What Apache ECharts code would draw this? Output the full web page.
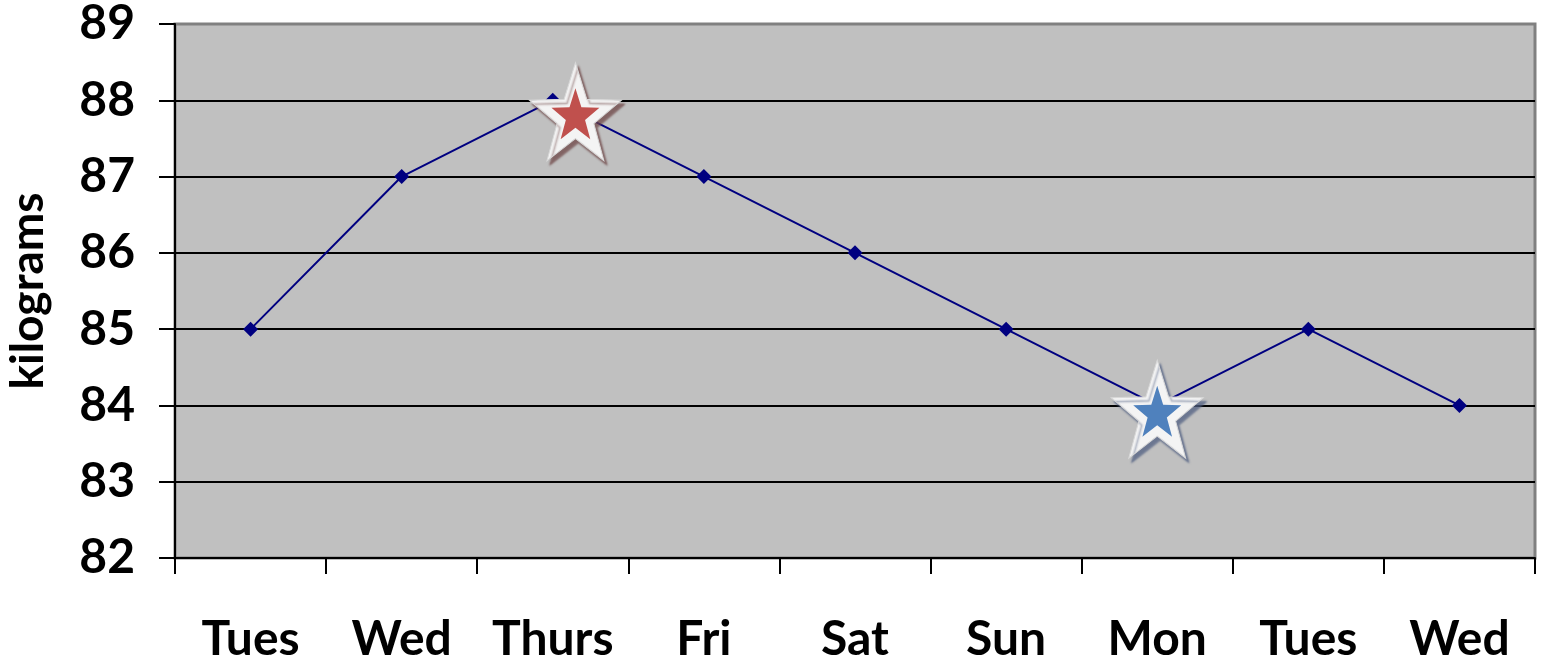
<!DOCTYPE html>
<html>
<head>
<meta charset="utf-8">
<script src="https://cdn.jsdelivr.net/npm/echarts@6/dist/echarts.min.js"></script>
<style>
  html, body { margin: 0; padding: 0; background: #fff; }
  #chart { width: 1543px; height: 663px; }
</style>
</head>
<body>
<div id="chart"></div>
<script>
// Daily body weight readings
const days = ['Tues', 'Wed', 'Thurs', 'Fri', 'Sat', 'Sun', 'Mon', 'Tues', 'Wed'];
const weights = [85, 87, 88, 87, 86, 85, 84, 85, 84];
const yTicks = [82, 83, 84, 85, 86, 87, 88, 89];

// Highlight stars: [position along the day axis (0..9), kilograms]
const highStar = [2.65, 87.85];
const lowStar = [6.5, 83.95];

const FONT = 'Lato, "Open Sans", sans-serif';

// Five-pointed star outline as an SVG path
function starPath() {
  const pts = [];
  for (let i = 0; i < 10; i++) {
    const r = i % 2 === 0 ? 50 : 20;
    const a = -Math.PI / 2 + i * Math.PI / 5;
    pts.push((50 + r * Math.cos(a)).toFixed(2) + ',' + (50 + r * Math.sin(a)).toFixed(2));
  }
  return 'path://M' + pts.join('L') + 'Z';
}
const STAR = starPath();

function starSeries(point, fill, shadow) {
  return [
    {
      type: 'scatter', xAxisIndex: 1, yAxisIndex: 0, z: 5,
      data: [point], symbol: STAR, symbolSize: [92, 98],
      itemStyle: {
        color: '#F4F4F4', opacity: 1, borderColor: '#D8D8D8', borderWidth: 1,
        shadowColor: shadow, shadowOffsetX: 3, shadowOffsetY: 4, shadowBlur: 2
      },
      silent: true
    },
    {
      type: 'scatter', xAxisIndex: 1, yAxisIndex: 0, z: 6,
      data: [point], symbol: STAR, symbolSize: [48, 51],
      symbolOffset: [0, 2],
      itemStyle: { color: fill, opacity: 1 },
      silent: true
    }
  ];
}

const chart = echarts.init(document.getElementById('chart'));
chart.setOption({
  animation: false,
  grid: {
    left: 175, right: 8, top: 24, bottom: 105,
    outerBoundsMode: 'none', containLabel: false,
    show: true, backgroundColor: '#C0C0C0',
    borderColor: '#808080', borderWidth: 3
  },
  xAxis: [
    {
      type: 'category', data: days, boundaryGap: true,
      axisLine: { lineStyle: { color: '#000', width: 2 } },
      axisTick: { show: true, length: 16, inside: false, interval: 0,
                  lineStyle: { color: '#000', width: 2 } },
      axisLabel: { color: '#000', fontFamily: FONT, fontWeight: 'bold', interval: 0,
                   fontSize: 48, margin: 58, lineHeight: 48 },
      splitLine: { show: false }
    },
    {
      type: 'value', min: 0, max: 9, show: false
    }
  ],
  yAxis: {
    type: 'value', min: 82, max: 89, interval: 1,
    name: 'kilograms', nameLocation: 'middle', nameGap: 124,
    nameTextStyle: { color: '#000', fontFamily: FONT, fontWeight: 'bold', fontSize: 46 },
    axisLine: { show: true, lineStyle: { color: '#000', width: 2 } },
    axisTick: { show: true, length: 16, lineStyle: { color: '#000', width: 2 } },
    axisLabel: { color: '#000', fontFamily: FONT, fontWeight: 'bold', fontSize: 48, margin: 40,
                 formatter: v => yTicks.includes(v) ? String(v) : '' },
    splitLine: { show: true, lineStyle: { width: 2,
      color: ['#000', '#000', '#000', '#000', '#000', '#000', '#000', '#808080'] } }
  },
  series: [
    {
      type: 'line', data: weights, z: 3,
      symbol: 'diamond', symbolSize: 15,
      lineStyle: { color: '#000080', width: 2 },
      itemStyle: { color: '#000080' }
    },
    ...starSeries(highStar, '#C0504D', 'rgba(110,70,70,0.75)'),
    ...starSeries(lowStar, '#4F81BD', 'rgba(80,95,130,0.75)')
  ]
});
</script>
</body>
</html>
